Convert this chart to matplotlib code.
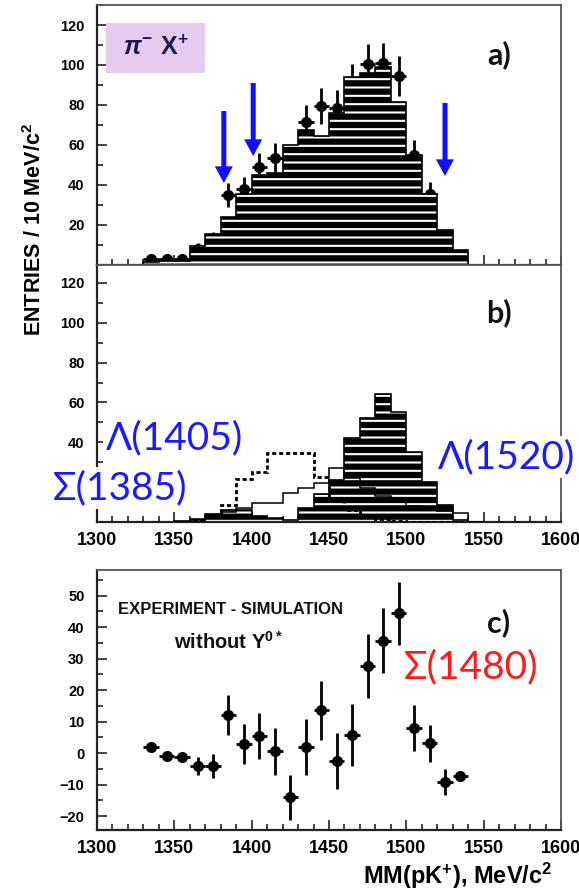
import numpy as np
import matplotlib
matplotlib.use('Agg')
import matplotlib.pyplot as plt
from matplotlib.patches import Rectangle
from matplotlib.ticker import MultipleLocator

plt.rcParams['font.family'] = ['Liberation Sans', 'DejaVu Sans']
plt.rcParams['font.weight'] = 'bold'
plt.rcParams['mathtext.fontset'] = 'custom'
plt.rcParams['mathtext.rm'] = 'Liberation Sans:bold'
plt.rcParams['mathtext.bf'] = 'Liberation Sans:bold'
plt.rcParams['mathtext.it'] = 'Liberation Sans:italic'
plt.rcParams['hatch.linewidth'] = 1.5

# ---- panel a: simulation (hatched) and measured points, 10 MeV bins
edges_a = np.arange(1320, 1551, 10)
sim_a = [0, 1.5, 2, 2, 9.5, 15.5, 24, 35.5, 45, 46, 60, 67.5, 64.5, 76,
         94, 96, 99, 81.5, 54.5, 35.5, 17.5, 7.5, 0]
centers = np.arange(1335, 1536, 10)
exp_a = [3, 3, 3, 8, 13, 35, 38, 49, 53.5, 49, 71.5, 79.5, 78.5, 91,
         100.5, 101, 94.5, 55, 35.3, 12, 3]
err_a = [1.7, 1.7, 1.7, 2.8, 3.6, 6, 6.2, 7, 7.3, 7, 8.5, 9, 9, 9.5,
         10, 10, 10, 7.4, 6, 3.5, 1.7]
arrow_x = [1382, 1401, 1525]
arrow_tail = [77, 91, 81]
arrow_tip = [41, 54.5, 44.5]

# ---- panel b: individual hyperon contributions
edges_b = np.arange(1350, 1551, 10)
lam1520_b = [0.5, 1.5, 4, 6, 6, 3, 2, 1, 7, 14, 21, 42, 52, 64, 55, 35,
             20, 8.5, 1, 0]
sig1385_b = [0, 0.5, 3, 5, 7, 9.5, 9.5, 14.5, 17, 19.5, 27, 22, 17, 13,
             10, 8, 6.5, 5.5, 4.5, 0]
lam1405_b = [0, 1, 3, 8.5, 21.5, 25, 34.5, 34.5, 34.5, 22.5, 12, 6, 3,
             1.5, 0.5, 0, 0, 0, 0, 0]

# ---- panel c: experiment minus simulation without Y0*
diff_c = [2, -0.8, -1.3, -4.1, -4.1, 12.1, 2.9, 5.4, 0.6, -14, 2, 13.6,
          -2.5, 5.7, 27.7, 35.7, 44.3, 8, 3.1, -9.3, -7.2]
err_c = [1, 1, 1.2, 3, 3.8, 6.2, 6.3, 7.3, 7.4, 7.1, 8.8, 9.3, 8.9, 9.8,
         10.2, 10.3, 10, 7.2, 5.9, 4.1, 1.5]

W, H = 579, 893


def fx(px):
    return px / W


def fy(py):
    return 1 - py / H


fig = plt.figure(figsize=(W / 100, H / 100), dpi=100)
left, width = fx(97), (561 - 97) / W
ax_a = fig.add_axes([left, fy(265), width, 260 / H])
ax_b = fig.add_axes([left, fy(522), width, 257 / H])
ax_c = fig.add_axes([left, fy(830), width, 260 / H])


def style(ax, ylo, yhi, ymaj, ymin, xlabels=True):
    ax.set_xlim(1300, 1600)
    ax.set_ylim(ylo, yhi)
    ax.xaxis.set_major_locator(MultipleLocator(50))
    ax.xaxis.set_minor_locator(MultipleLocator(10))
    ax.yaxis.set_major_locator(MultipleLocator(ymaj))
    ax.yaxis.set_minor_locator(MultipleLocator(ymin))
    ax.tick_params(which='both', direction='in', top=False, right=False,
                   width=1.2, color='#222222')
    ax.tick_params(which='major', length=7)
    ax.tick_params(which='minor', length=4)
    ax.tick_params(axis='x', labelsize=13, pad=7, labelbottom=xlabels)
    ax.tick_params(axis='y', labelsize=10.5, pad=9)
    for s in ('left', 'bottom'):
        ax.spines[s].set_linewidth(1.6)
        ax.spines[s].set_color('#222222')
    for s in ('top', 'right'):
        ax.spines[s].set_linewidth(1.3)
        ax.spines[s].set_color('#555555')


def hatched(ax, vals, edges):
    ax.stairs(vals, edges, fill=True, facecolor='black', edgecolor='white',
              hatch='--', linewidth=0, zorder=2)
    ax.stairs(vals, edges, color='black', linewidth=1.2, zorder=2.1)


# panel a: points sit under the histogram, only the part above it shows
hatched(ax_a, sim_a, edges_a)
ax_a.errorbar(centers, exp_a, yerr=err_a, xerr=5, fmt='o', ms=7,
              color='black', elinewidth=2, capsize=0, zorder=1.5)
for x, y0, y1 in zip(arrow_x, arrow_tail, arrow_tip):
    ax_a.annotate('', xy=(x, y1), xytext=(x, y0),
                  arrowprops=dict(facecolor='#1010ff', edgecolor='none',
                                  width=3.6, headwidth=13, headlength=12,
                                  shrink=0))
style(ax_a, 0, 130, 20, 10, xlabels=False)
ax_a.set_yticks([20, 40, 60, 80, 100, 120])
ax_a.add_patch(Rectangle((0.019, 0.738), 0.214, 0.193, transform=ax_a.transAxes,
                         facecolor='#e6caf0', edgecolor='none', zorder=4))
ax_a.text(0.126, 0.835, r'$\pi^{-}\ \mathbf{X}^{+}$', transform=ax_a.transAxes,
          ha='center', va='center', fontsize=18, color='#1c1c50', zorder=5)

# panel b
hatched(ax_b, lam1520_b, edges_b)
ax_b.stairs(sig1385_b, edges_b, color='black', linewidth=1.1, zorder=3)
ax_b.stairs(lam1405_b, edges_b, color='black', linewidth=2,
            linestyle=(0, (1.5, 1)), zorder=3.1)
style(ax_b, 0, 129, 20, 10)
ax_b.set_yticks([20, 40, 60, 80, 100, 120])

# panel c
ax_c.errorbar(centers, diff_c, yerr=err_c, xerr=5, fmt='o', ms=7,
              color='black', elinewidth=2, capsize=0, zorder=3)
style(ax_c, -24.4, 58.1, 10, 5)

# panel letters
for lab, py in (('a)', 55), ('b)', 313), ('c)', 623)):
    fig.text(fx(499), fy(py), lab, fontsize=22, family='Lato',
             weight='bold', color='#111111', ha='center', va='center')

# resonance labels
box = dict(facecolor='white', edgecolor='none', pad=2)
fig.text(fx(106), fy(438), 'Λ(1405)', fontsize=28, family='Lato',
         weight='normal', color='#1a1aff', ha='left', va='center', bbox=box)
fig.text(fx(53), fy(488), 'Σ(1385)', fontsize=28, family='Lato',
         weight='normal', color='#1a1aff', ha='left', va='center', bbox=box)
fig.text(fx(438), fy(457), 'Λ(1520)', fontsize=28, family='Lato',
         weight='normal', color='#1a1aff', ha='left', va='center', bbox=box)
fig.text(fx(404), fy(667), 'Σ(1480)', fontsize=28, family='Lato',
         weight='normal', color='#ff1a1a', ha='left', va='center', bbox=box)

# panel c annotations
fig.text(fx(230), fy(609), 'EXPERIMENT - SIMULATION', fontsize=12,
         ha='center', va='center', color='#111111')
fig.text(fx(228), fy(642), r'without Y$^{\mathbf{0*}}$', fontsize=14.5,
         ha='center', va='center', color='#111111')

# axis titles
fig.text(fx(35), fy(229), r'ENTRIES / 10 MeV/c$^{\mathbf{2}}$', fontsize=15.5,
         rotation=90, ha='center', va='center')
fig.text(fx(552), fy(876), r'MM(pK$^{\mathbf{+}}$), MeV/c$^{\mathbf{2}}$',
         fontsize=17, ha='right', va='center')

fig.savefig('out.png', dpi=100)
